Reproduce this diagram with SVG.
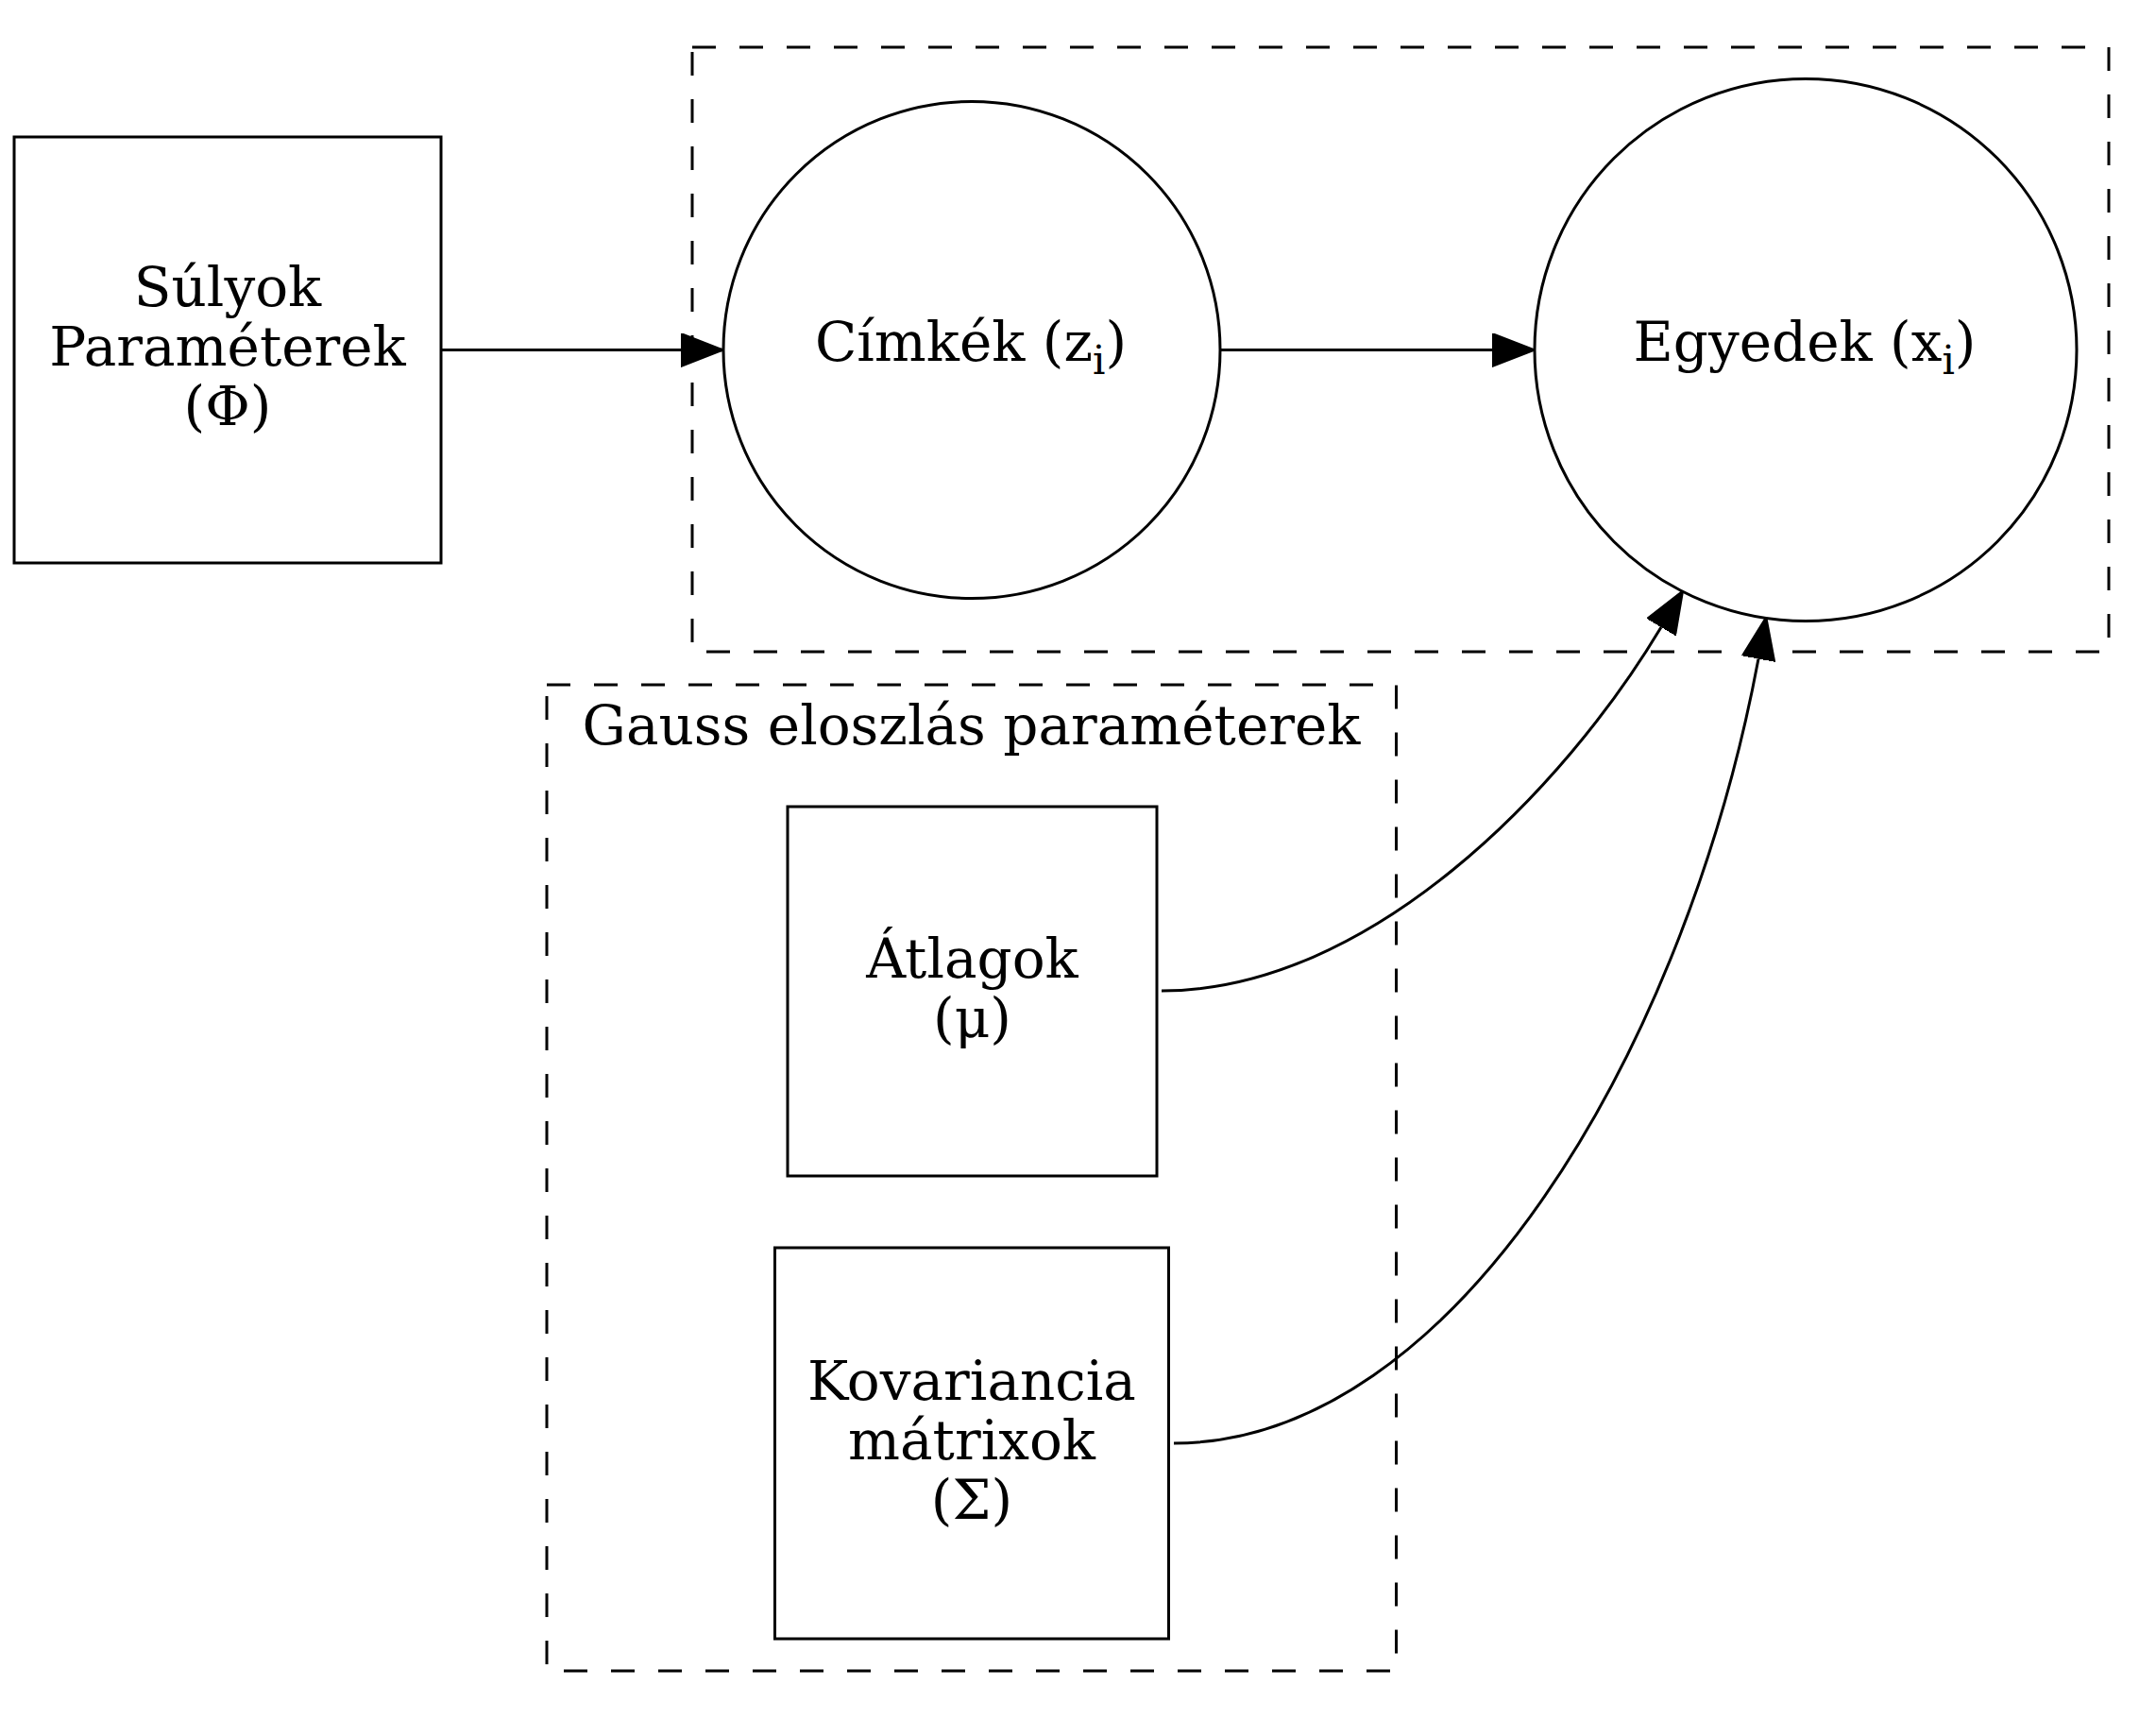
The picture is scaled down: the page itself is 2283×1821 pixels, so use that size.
<svg xmlns="http://www.w3.org/2000/svg" width="2283" height="1821" viewBox="0 0 2283 1821">
<style>
text{font-family:"DejaVu Serif","Liberation Serif",serif;font-size:58px;fill:#000;text-anchor:middle}
.node{fill:#fff;stroke:#000;stroke-width:3}
.cluster{fill:none;stroke:#000;stroke-width:3;stroke-dasharray:25,25}
.edge{fill:none;stroke:#000;stroke-width:3;marker-end:url(#arrow)}
.sub{font-size:42px}
</style>
<defs>
<marker id="arrow" markerUnits="userSpaceOnUse" viewBox="0 -18 46 36" refX="0" refY="0" markerWidth="46" markerHeight="36" orient="auto">
<path d="M0,-17.5 L45,0 L0,17.5 z" fill="#000" stroke="#000" stroke-width="2"/>
</marker>
</defs>
<rect width="2283" height="1821" fill="#fff"/>
<g id="cluster_obs">
<rect class="cluster" x="733" y="50" width="1500" height="640"/>
</g>
<g id="cluster_gauss">
<rect class="cluster" x="579" y="725" width="899.5" height="1044"/>
<text x="1028.5" y="788">Gauss eloszlás paraméterek</text>
</g>
<g id="connectors">
<path class="edge" d="M467,370.5 H721"/>
<path class="edge" d="M1292,370.5 H1580"/>
<path class="edge" d="M1230,1049 C1450,1049 1656,836 1759,664"/>
<path class="edge" d="M1243,1528 C1540,1528 1785,1110 1862,697.5"/>
</g>
<g id="node_sulyok">
<rect class="node" x="15" y="145" width="452" height="451"/>
<text x="241" y="324">Súlyok</text>
<text x="241" y="387">Paraméterek</text>
<text x="241" y="450">(Φ)</text>
</g>
<g id="node_cimkek">
<circle class="node" cx="1029" cy="370.5" r="263"/>
<text x="1028" y="382">Címkék (z<tspan class="sub" dy="14">i</tspan><tspan dy="-14">)</tspan></text>
</g>
<g id="node_egyedek">
<circle class="node" cx="1912" cy="370.5" r="287"/>
<text x="1911" y="382">Egyedek (x<tspan class="sub" dy="14">i</tspan><tspan dy="-14">)</tspan></text>
</g>
<g id="node_atlagok">
<rect class="node" x="834" y="854" width="391" height="391"/>
<text x="1029.5" y="1035">Átlagok</text>
<text x="1029.5" y="1098">(μ)</text>
</g>
<g id="node_kovariancia">
<rect class="node" x="820.5" y="1321" width="417" height="414"/>
<text x="1029" y="1482">Kovariancia</text>
<text x="1029" y="1545">mátrixok</text>
<text x="1029" y="1608">(Σ)</text>
</g>
</svg>
